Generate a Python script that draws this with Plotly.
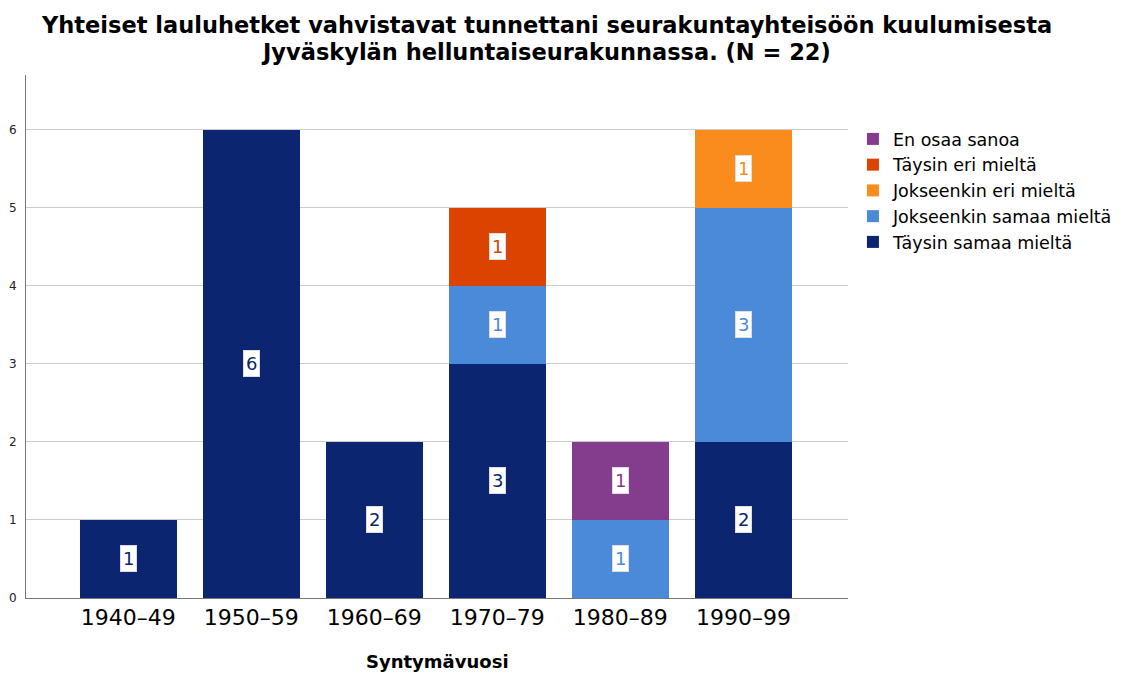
import plotly.graph_objects as go

categories = ["1940–49", "1950–59", "1960–69", "1970–79", "1980–89", "1990–99"]
series_names = ["Täysin samaa mieltä", "Jokseenkin samaa mieltä", "Jokseenkin eri mieltä",
                "Täysin eri mieltä", "En osaa sanoa"]
taysin_samaa = [1, 6, 2, 3, 0, 2]
jokseenkin_samaa = [0, 0, 0, 1, 1, 3]
jokseenkin_eri = [0, 0, 0, 0, 0, 1]
taysin_eri = [0, 0, 0, 1, 0, 0]
en_osaa = [0, 0, 0, 0, 1, 0]
series_values = [taysin_samaa, jokseenkin_samaa, jokseenkin_eri, taysin_eri, en_osaa]
colors = ["#0b2570", "#4a8ad8", "#fa8c1e", "#dc4200", "#843c8c"]
y_ticks = [0, 1, 2, 3, 4, 5, 6]
title_lines = ["Yhteiset lauluhetket vahvistavat tunnettani seurakuntayhteisöön kuulumisesta",
               "Jyväskylän helluntaiseurakunnassa. (N = 22)"]

fig = go.Figure()
for name, vals, col in zip(series_names, series_values, colors):
    fig.add_trace(go.Bar(
        x=categories, y=vals, name=name, marker=dict(color=col, line=dict(width=0)),
        width=0.79,
    ))

# value labels in white boxes
annotations = []
cum = [0] * len(categories)
for name, vals, col in zip(series_names, series_values, colors):
    for i, v in enumerate(vals):
        if v > 0:
            annotations.append(dict(
                x=categories[i], y=cum[i] + v / 2, xref="x", yref="y",
                text=str(v), showarrow=False,
                font=dict(family="DejaVu Sans", size=18, color=col),
                bgcolor="white", bordercolor="#dddddd", borderwidth=1, borderpad=2,
            ))
            cum[i] += v

for line, ypos in zip(title_lines, [1.0956, 1.044]):
    annotations.append(dict(
        x=0.633, y=ypos, xref="paper", yref="paper", xanchor="center", yanchor="middle",
        text="<b>" + line + "</b>", showarrow=False,
        font=dict(family="DejaVu Sans", size=22.5, color="black"),
    ))

annotations.append(dict(
    x=0.5, y=-0.122, xref="paper", yref="paper", xanchor="center", yanchor="middle",
    text="<b>Syntymävuosi</b>", showarrow=False,
    font=dict(family="DejaVu Sans", size=18, color="black"),
))

fig.update_layout(
    width=1139, height=667,
    paper_bgcolor="white", plot_bgcolor="white",
    barmode="stack", bargap=0.21,
    margin=dict(l=18, r=299, t=67, b=77, autoexpand=False),
    annotations=annotations,
    legend=dict(x=1.006, y=0.912, xanchor="left", yanchor="top",
                traceorder="reversed", font=dict(family="DejaVu Sans", size=17.5, color="black"),
                itemwidth=30, tracegroupgap=0, bgcolor="rgba(0,0,0,0)"),
    xaxis=dict(
        range=[-0.83, 5.85], showline=True, linecolor="#777777", linewidth=1,
        ticks="", tickfont=dict(family="DejaVu Sans", size=22, color="black"),
        showgrid=False, automargin=False,
    ),
    yaxis=dict(
        range=[0, 6.7], tickvals=y_ticks, showline=True, linecolor="#777777", linewidth=1,
        showgrid=True, gridcolor="#cccccc", gridwidth=1, zeroline=False, automargin=False,
        ticks="", tickfont=dict(family="DejaVu Sans", size=12, color="#222222"), ticklabelstandoff=6,
    ),
    showlegend=True,
)

fig.write_html("out.html")
